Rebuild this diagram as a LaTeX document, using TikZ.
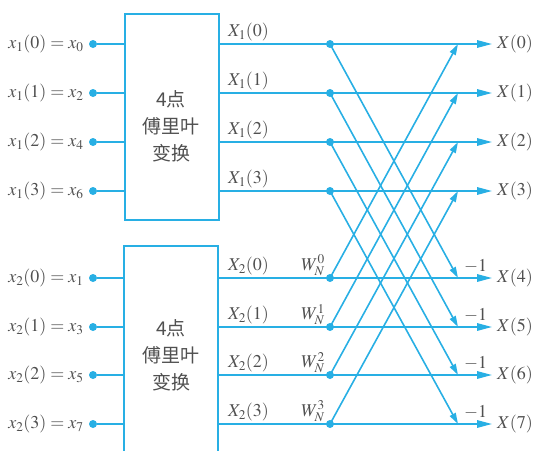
\documentclass[tikz,border=0pt]{standalone}
\usepackage{mathptmx}
\usepackage{fontspec}
\setmainfont{Liberation Serif}
\newfontfamily\cjk{Noto Sans CJK SC}
\usetikzlibrary{arrows.meta}
\definecolor{fc}{RGB}{40,175,228}
\definecolor{tc}{RGB}{80,80,80}
\begin{document}
\begin{tikzpicture}[x=1pt,y=-1pt,
  flow/.style={draw=fc,line width=1.6pt},
  harr/.style={flow,-{Triangle[length=15pt,width=7.5pt]}},
  darr/.style={flow,-{Triangle[length=11pt,width=6.5pt]}},
  dot/.style={circle,fill=fc,inner sep=0pt,minimum size=8pt},
  lbl/.style={text=tc,font=\fontsize{18}{20}\selectfont,inner sep=0pt},
  cjkl/.style={text=tc,align=center,font=\fontsize{19}{27}\selectfont\cjk,inner sep=0pt},
  blk/.style={draw=fc,line width=1.6pt,fill=white}]
\useasboundingbox (0,0) rectangle (538,450);
% boxes
\node[blk,minimum width=94pt,minimum height=206pt,anchor=north west] (B1) at (124,13) {};
\draw[blk] (124,452) -- (124,246) -- (218,246) -- (218,452);
\coordinate (B2) at (171,246);
\node[cjkl] (T1) at (171,126) {4点\\傅里叶\\变换};
\node[cjkl] (T2) at (171,355) {4点\\傅里叶\\变换};
% rows
\foreach \i/\y in {0/44,1/93,2/142,3/191,4/278,5/327,6/375,7/424}{
  \coordinate (L\i) at (124,\y);
  \coordinate (R\i) at (218,\y);
  \node[dot] (D\i) at (330,\y) {};
  \coordinate (E\i) at (458,\y);
  \coordinate (O\i) at (492,\y);
  \node[dot] (I\i) at (93,\y) {};
  \draw[flow] (I\i) -- (L\i);
  \draw[harr] (R\i) -- (O\i);
  \node[lbl,anchor=west] (X\i) at (497,\y) {$X(\i)$};
}
% input labels
\node[lbl,anchor=east] at ([xshift=-5pt]I0.west) {$x_1(0)=x_0$};
\node[lbl,anchor=east] at ([xshift=-5pt]I1.west) {$x_1(1)=x_2$};
\node[lbl,anchor=east] at ([xshift=-5pt]I2.west) {$x_1(2)=x_4$};
\node[lbl,anchor=east] at ([xshift=-5pt]I3.west) {$x_1(3)=x_6$};
\node[lbl,anchor=east] at ([xshift=-5pt]I4.west) {$x_2(0)=x_1$};
\node[lbl,anchor=east] at ([xshift=-5pt]I5.west) {$x_2(1)=x_3$};
\node[lbl,anchor=east] at ([xshift=-5pt]I6.west) {$x_2(2)=x_5$};
\node[lbl,anchor=east] at ([xshift=-5pt]I7.west) {$x_2(3)=x_7$};
% block output labels
\foreach \i/\k in {0/0,1/1,2/2,3/3}{
  \node[lbl,anchor=south west] at ([xshift=10pt,yshift=3pt]R\i) {$X_1(\k)$};
}
\foreach \i/\k in {4/0,5/1,6/2,7/3}{
  \node[lbl,anchor=south west] at ([xshift=10pt,yshift=3pt]R\i) {$X_2(\k)$};
  \node[lbl,anchor=south east] at ([xshift=-5pt,yshift=2pt]D\i.center) {$W_N^{\k}$};
  \node[lbl,anchor=south west] at ([xshift=6pt,yshift=5pt]E\i) {$-1$};
}
% butterflies
\foreach \a/\b in {0/4,1/5,2/6,3/7}{
  \draw[darr] (D\a.center) -- (E\b);
  \draw[darr] (D\b.center) -- (E\a);
}
\end{tikzpicture}
\end{document}
